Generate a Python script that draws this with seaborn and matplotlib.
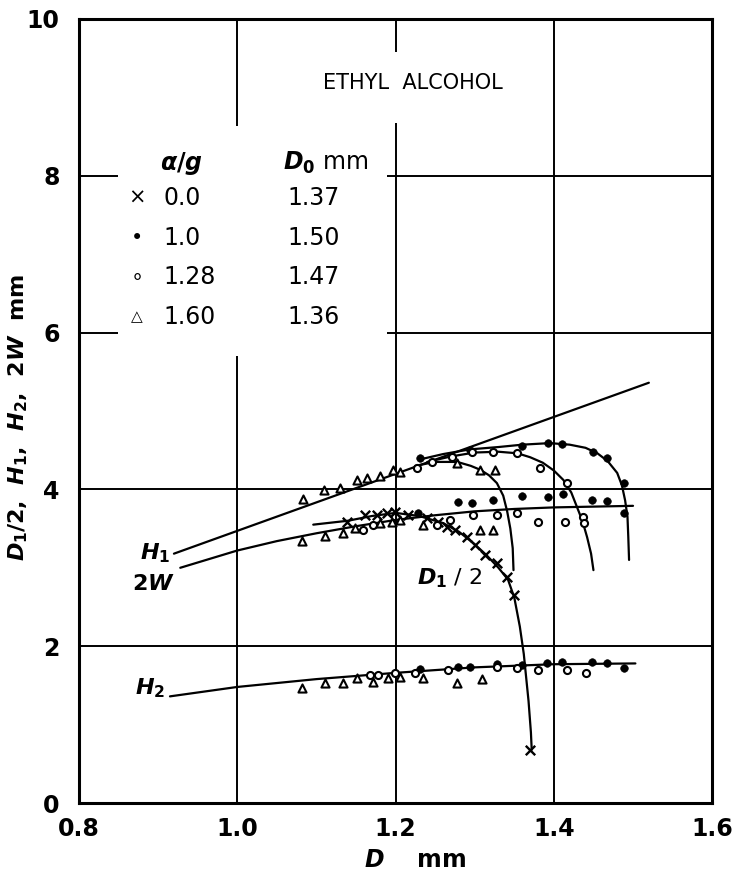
import numpy as np
import pandas as pd
import matplotlib
matplotlib.use("Agg")
import matplotlib.pyplot as plt
from matplotlib.patches import Rectangle
import seaborn as sns

# ---- data (D in mm, heights in mm) ----
# alpha/g = 0.0 (crosses): D_f/2
cross_x = [1.139, 1.161, 1.177, 1.189, 1.199, 1.216, 1.240, 1.254, 1.265, 1.275,
           1.290, 1.300, 1.313, 1.328, 1.341, 1.349, 1.370]
cross_y = [3.58, 3.67, 3.67, 3.70, 3.71, 3.67, 3.64, 3.58, 3.52, 3.48,
           3.39, 3.29, 3.16, 3.06, 2.88, 2.65, 0.68]

# alpha/g = 1.0 (filled dots)
dot_h1_x = [1.231, 1.294, 1.360, 1.393, 1.410, 1.450, 1.467, 1.488]
dot_h1_y = [4.40, 4.50, 4.55, 4.59, 4.58, 4.48, 4.40, 4.08]
dot_2w_x = [1.228, 1.279, 1.297, 1.323, 1.360, 1.393, 1.412, 1.448, 1.467, 1.488]
dot_2w_y = [3.70, 3.84, 3.83, 3.86, 3.92, 3.90, 3.94, 3.86, 3.85, 3.70]
dot_h2_x = [1.231, 1.279, 1.294, 1.328, 1.360, 1.391, 1.410, 1.448, 1.467, 1.488]
dot_h2_y = [1.71, 1.73, 1.73, 1.77, 1.76, 1.79, 1.80, 1.80, 1.79, 1.72]

# alpha/g = 1.28 (open circles)
circ_h1_x = [1.227, 1.246, 1.271, 1.297, 1.323, 1.353, 1.383, 1.417]
circ_h1_y = [4.27, 4.35, 4.41, 4.48, 4.48, 4.46, 4.27, 4.08]
circ_2w_x = [1.159, 1.172, 1.252, 1.269, 1.298, 1.328, 1.354, 1.380, 1.414, 1.437, 1.438]
circ_2w_y = [3.48, 3.55, 3.55, 3.61, 3.67, 3.67, 3.70, 3.58, 3.58, 3.65, 3.57]
circ_h2_x = [1.168, 1.178, 1.199, 1.225, 1.266, 1.328, 1.354, 1.380, 1.417, 1.440]
circ_h2_y = [1.63, 1.63, 1.66, 1.66, 1.70, 1.73, 1.72, 1.70, 1.70, 1.66]

# alpha/g = 1.60 (open triangles)
tri_h1_x = [1.083, 1.110, 1.130, 1.151, 1.164, 1.180, 1.197, 1.206, 1.278, 1.307, 1.326]
tri_h1_y = [3.88, 3.99, 4.02, 4.12, 4.15, 4.17, 4.25, 4.22, 4.33, 4.25, 4.25]
tri_2w_x = [1.082, 1.111, 1.134, 1.149, 1.180, 1.196, 1.206, 1.235, 1.307, 1.323]
tri_2w_y = [3.34, 3.41, 3.44, 3.51, 3.57, 3.58, 3.61, 3.55, 3.48, 3.48]
tri_h2_x = [1.082, 1.111, 1.134, 1.151, 1.172, 1.191, 1.206, 1.235, 1.278, 1.309]
tri_h2_y = [1.47, 1.53, 1.53, 1.59, 1.54, 1.59, 1.61, 1.59, 1.53, 1.58]

# faired curves
h1_x = [0.92, 1.52]
h1_y = [3.18, 5.36]
w2_x = [0.928, 1.0, 1.05, 1.1, 1.15, 1.2, 1.25, 1.3, 1.35, 1.4, 1.5]
w2_y = [3.00, 3.22, 3.34, 3.44, 3.53, 3.61, 3.67, 3.72, 3.75, 3.77, 3.79]
h2_x = [0.915, 1.0, 1.1, 1.2, 1.3, 1.4, 1.503]
h2_y = [1.36, 1.48, 1.58, 1.66, 1.73, 1.77, 1.78]
df2_x = [1.096, 1.14, 1.17, 1.20, 1.23, 1.26, 1.28, 1.30, 1.315, 1.33, 1.342,
         1.35, 1.357, 1.362, 1.368, 1.371, 1.372]
df2_y = [3.55, 3.60, 3.66, 3.70, 3.66, 3.57, 3.46, 3.30, 3.16, 3.00, 2.85,
         2.62, 2.25, 1.90, 1.30, 0.90, 0.68]
tri_arc_x = [1.225, 1.25, 1.278, 1.295, 1.307, 1.318, 1.328, 1.336, 1.341, 1.345, 1.348, 1.349]
tri_arc_y = [4.30, 4.35, 4.35, 4.30, 4.25, 4.18, 4.08, 3.92, 3.72, 3.50, 3.25, 2.97]
circ_arc_x = [1.24, 1.27, 1.30, 1.33, 1.354, 1.37, 1.386, 1.40, 1.412, 1.422,
              1.429, 1.436, 1.442, 1.447, 1.450]
circ_arc_y = [4.35, 4.42, 4.47, 4.48, 4.46, 4.41, 4.34, 4.24, 4.12, 3.96,
              3.78, 3.60, 3.39, 3.18, 2.97]
dot_arc_x = [1.23, 1.26, 1.294, 1.33, 1.36, 1.395, 1.42, 1.44, 1.455, 1.468,
             1.480, 1.486, 1.490, 1.493, 1.494, 1.495]
dot_arc_y = [4.38, 4.45, 4.51, 4.54, 4.57, 4.59, 4.57, 4.53, 4.46, 4.36,
             4.21, 4.05, 3.86, 3.65, 3.40, 3.10]

legend_ag = ["0.0", "1.0", "1.28", "1.60"]
legend_d0 = ["1.37", "1.50", "1.47", "1.36"]
legend_keys = ["\u00d7", "\u2022", "\u2218", "\u25b3"]
legend_key_sizes = [15, 15, 15, 11]

# ---- style ----
sns.set_theme(style="white")
plt.rcParams["font.family"] = ["DejaVu Sans"]
plt.rcParams["text.color"] = "black"
plt.rcParams["axes.labelcolor"] = "black"
plt.rcParams["xtick.color"] = "black"
plt.rcParams["ytick.color"] = "black"
plt.rcParams["mathtext.fontset"] = "custom"
plt.rcParams["mathtext.it"] = "DejaVu Sans:italic:bold"
plt.rcParams["mathtext.rm"] = "DejaVu Sans:bold"
plt.rcParams["mathtext.bf"] = "DejaVu Sans:bold"

fig = plt.figure(figsize=(7.38, 8.8), dpi=100)
ax = fig.add_axes([0.107, 0.0875, 0.858, 0.891])

# curves
lw = 1.6
for cx, cy in [(h1_x, h1_y), (w2_x, w2_y), (h2_x, h2_y), (df2_x, df2_y),
               (tri_arc_x, tri_arc_y), (circ_arc_x, circ_arc_y), (dot_arc_x, dot_arc_y)]:
    sns.lineplot(x=cx, y=cy, sort=False, estimator=None, color="black",
                 linewidth=lw, ax=ax, zorder=3)

# points
sns.scatterplot(x=cross_x, y=cross_y, marker="x", s=46, color="black",
                linewidth=1.7, ax=ax, zorder=4)
sns.scatterplot(x=dot_h1_x + dot_2w_x + dot_h2_x, y=dot_h1_y + dot_2w_y + dot_h2_y,
                marker="o", s=30, color="black", edgecolor="black", ax=ax, zorder=4)
sns.scatterplot(x=circ_h1_x + circ_2w_x + circ_h2_x, y=circ_h1_y + circ_2w_y + circ_h2_y,
                marker="o", s=26, facecolor="white", edgecolor="black",
                linewidth=1.5, ax=ax, zorder=4)
sns.scatterplot(x=tri_h1_x + tri_2w_x + tri_h2_x, y=tri_h1_y + tri_2w_y + tri_h2_y,
                marker="^", s=34, facecolor="white", edgecolor="black",
                linewidth=1.5, ax=ax, zorder=4)

# axes
ax.set_xlim(0.8, 1.6)
ax.set_ylim(0, 10)
ax.set_xticks([0.8, 1.0, 1.2, 1.4, 1.6])
ax.set_xticklabels(["0.8", "1.0", "1.2", "1.4", "1.6"])
ax.set_yticks([0, 2, 4, 6, 8, 10])
ax.tick_params(length=0, labelsize=17)
ax.tick_params(axis="x", pad=10)
ax.tick_params(axis="y", pad=14)
for lab in ax.get_xticklabels() + ax.get_yticklabels():
    lab.set_fontweight("bold")
ax.grid(True, color="black", linewidth=1.4)
ax.set_axisbelow(True)
for sp in ax.spines.values():
    sp.set_color("black")
    sp.set_linewidth(2.2)

# white boxes that break the grid behind the annotation text
ax.add_patch(Rectangle((0.062, 0.570), 0.425, 0.293, transform=ax.transAxes,
                       facecolor="white", edgecolor="none", zorder=1))
ax.add_patch(Rectangle((0.333, 0.867), 0.39, 0.091, transform=ax.transAxes,
                       facecolor="white", edgecolor="none", zorder=1))

ax.set_xlabel("$D$    mm", fontsize=17, fontweight="bold")
ax.xaxis.set_label_coords(0.531, -0.057)
ax.set_ylabel("$D_1/2$,  $H_1$,  $H_2$,  $2W$  mm", fontsize=16, fontweight="bold")
ax.yaxis.set_label_coords(-0.077, 0.491)

ax.text(0.527, 0.918, "ETHYL  ALCOHOL", transform=ax.transAxes, fontsize=15,
        ha="center", va="center", zorder=5)

# legend block
ax.text(0.128, 0.816, r"$\alpha/g$", transform=ax.transAxes, fontsize=17,
        ha="left", va="center", zorder=5)
ax.text(0.322, 0.816, "$D_0$ mm", transform=ax.transAxes, fontsize=17,
        ha="left", va="center", zorder=5)
row_y = [0.772, 0.721, 0.671, 0.620]
for key, ks, ag, d0, ry in zip(legend_keys, legend_key_sizes, legend_ag, legend_d0, row_y):
    ax.text(0.092, ry, key, transform=ax.transAxes, fontsize=ks,
            ha="center", va="center", zorder=5)
    ax.text(0.133, ry, ag, transform=ax.transAxes, fontsize=17,
            ha="left", va="center", zorder=5)
    ax.text(0.329, ry, d0, transform=ax.transAxes, fontsize=17,
            ha="left", va="center", zorder=5)

# curve labels
ax.text(0.915, 3.19, "$H_1$", fontsize=16, ha="right", va="center")
ax.text(0.921, 2.79, "$2W$", fontsize=16, ha="right", va="center")
ax.text(0.909, 1.47, "$H_2$", fontsize=16, ha="right", va="center")
ax.text(1.227, 2.87, "$D_1$ / 2", fontsize=16, ha="left", va="center")

fig.savefig("out.png", dpi=100)
